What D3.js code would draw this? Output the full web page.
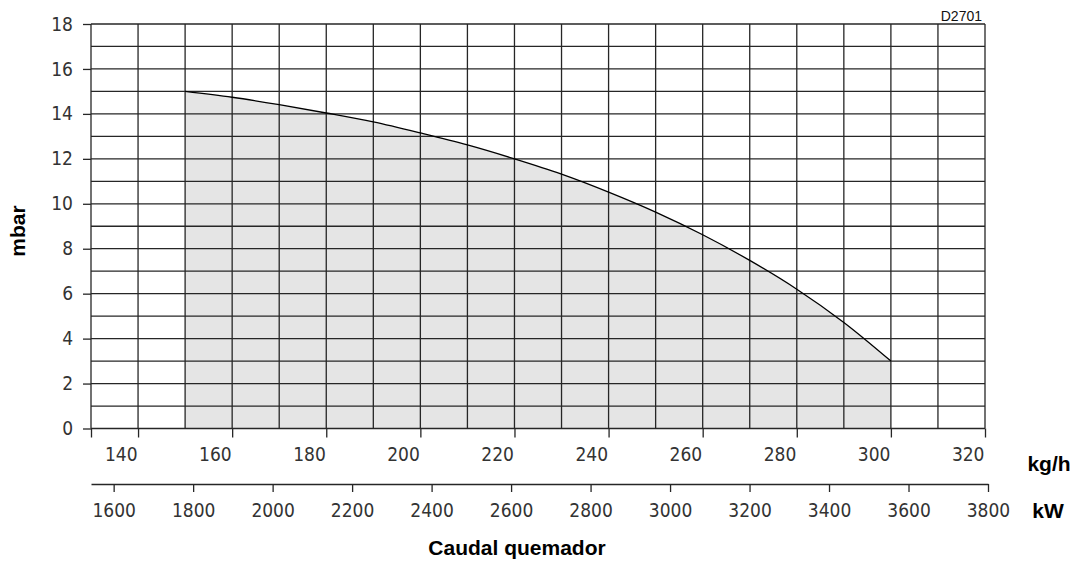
<!DOCTYPE html>
<html>
<head>
<meta charset="utf-8">
<script src="https://cdn.jsdelivr.net/npm/d3@7"></script>
<style>
  html, body { margin: 0; padding: 0; background: #fff; }
  svg { display: block; }
</style>
</head>
<body>
<script>
// ---- data ----
const flowKgh = [150, 160, 170, 180, 190, 200, 210, 220, 230, 240, 250, 260, 270, 280, 290, 300];
const pressureMbar = [15.0, 14.74, 14.41, 14.04, 13.64, 13.15, 12.62, 12.0, 11.32, 10.52, 9.63, 8.62, 7.48, 6.2, 4.72, 3.0];
const kghTicks = [130, 140, 160, 180, 200, 220, 240, 260, 280, 300, 320];
const kwTicks = [1600, 1800, 2000, 2200, 2400, 2600, 2800, 3000, 3200, 3400, 3600, 3800];
const mbarTicks = [0, 2, 4, 6, 8, 10, 12, 14, 16, 18];
const kghDomain = [130, 320];
const kwDomain = [1543, 3800];
const mbarDomain = [0, 18];
const titleX = "Caudal quemador";
const titleY = "mbar";
const unitKgh = "kg/h";
const unitKw = "kW";
const code = "D2701";

const W = 1076, H = 562;
const svg = d3.select("body").append("svg").attr("width", W).attr("height", H);

const NUMFONT = "'DejaVu Sans Condensed', 'DejaVu Sans', sans-serif";
function styleNum(sel) {
  sel.style("font-family", NUMFONT).style("font-size", "19px").style("font-stretch", "condensed")
     .style("font-weight", "200").style("fill", "#333");
}
function styleBold(sel) {
  sel.style("font-family", "'Liberation Sans', Arial, sans-serif").style("font-weight", "bold")
     .style("font-size", "21px").style("fill", "#000");
}

const x = d3.scaleLinear().domain(kghDomain).range([91, 985]);
const y = d3.scaleLinear().domain(mbarDomain).range([428.5, 24]);
const xKw = d3.scaleLinear().domain(kwDomain).range([91, 988]);

const pts = flowKgh.map((v, i) => [v, pressureMbar[i]]);

// shaded area
const area = d3.area().x(d => x(d[0])).y0(y(0)).y1(d => y(d[1])).curve(d3.curveCatmullRom);
svg.append("path").datum(pts).attr("d", area).attr("fill", "#e5e5e5");

// grid
const gridColor = "#262626";
const vLines = d3.range(kghDomain[0], kghDomain[1] + 1, 10);
const hLines = d3.range(mbarDomain[0], mbarDomain[1] + 1, 1);
svg.append("g").selectAll("line").data(vLines).join("line")
  .attr("x1", d => x(d)).attr("x2", d => x(d))
  .attr("y1", y(mbarDomain[0])).attr("y2", y(mbarDomain[1]))
  .attr("stroke", gridColor).attr("stroke-width", 1.3);
svg.append("g").selectAll("line").data(hLines).join("line")
  .attr("x1", x(kghDomain[0])).attr("x2", x(kghDomain[1]))
  .attr("y1", d => y(d)).attr("y2", d => y(d))
  .attr("stroke", gridColor).attr("stroke-width", 1.3);

// curve
const line = d3.line().x(d => x(d[0])).y(d => y(d[1])).curve(d3.curveCatmullRom);
svg.append("path").datum(pts).attr("d", line).attr("fill", "none").attr("stroke", "#000").attr("stroke-width", 1.3);

// y axis
const gy = svg.append("g").attr("transform", `translate(${x(kghDomain[0])},0)`)
  .call(d3.axisLeft(y).tickValues(mbarTicks).tickSize(8).tickPadding(10).tickFormat(d3.format("d")));
gy.select(".domain").remove();
gy.selectAll(".tick line").attr("stroke", gridColor).attr("stroke-width", 1.3);
styleNum(gy.selectAll(".tick text"));

// kg/h axis
const gx = svg.append("g").attr("transform", `translate(0,${y(0)})`)
  .call(d3.axisBottom(x).tickValues(kghTicks).tickSize(9).tickPadding(10).tickSizeOuter(0)
    .tickFormat(d => d === kghDomain[0] ? "" : String(d)));
gx.select(".domain").remove();
gx.selectAll(".tick line").attr("stroke", gridColor).attr("stroke-width", 1.3);
gx.selectAll(".tick text").attr("text-anchor", "end").attr("x", -1);
styleNum(gx.selectAll(".tick text"));

// kW axis
const gk = svg.append("g").attr("transform", "translate(0,484)")
  .call(d3.axisBottom(xKw).tickValues(kwTicks).tickSize(8).tickPadding(12).tickSizeOuter(0)
    .tickFormat(d3.format("d")));
gk.select(".domain").attr("stroke", gridColor).attr("stroke-width", 1.3);
gk.selectAll(".tick line").attr("stroke", gridColor).attr("stroke-width", 1.3);
styleNum(gk.selectAll(".tick text"));

// unit labels
styleBold(svg.append("text").attr("x", 1049).attr("y", 471).attr("text-anchor", "middle").text(unitKgh));
styleBold(svg.append("text").attr("x", 1048).attr("y", 518).attr("text-anchor", "middle").text(unitKw));

// titles
styleBold(svg.append("text").attr("x", 517).attr("y", 555).attr("text-anchor", "middle").text(titleX));
styleBold(svg.append("text").attr("transform", "translate(25,231) rotate(-90)").attr("text-anchor", "middle").text(titleY));

// drawing code
svg.append("text").attr("x", 982).attr("y", 21).attr("text-anchor", "end")
  .style("font-family", "'Liberation Sans', Arial, sans-serif").style("font-size", "14px").style("fill", "#111").text(code);
</script>
</body>
</html>
